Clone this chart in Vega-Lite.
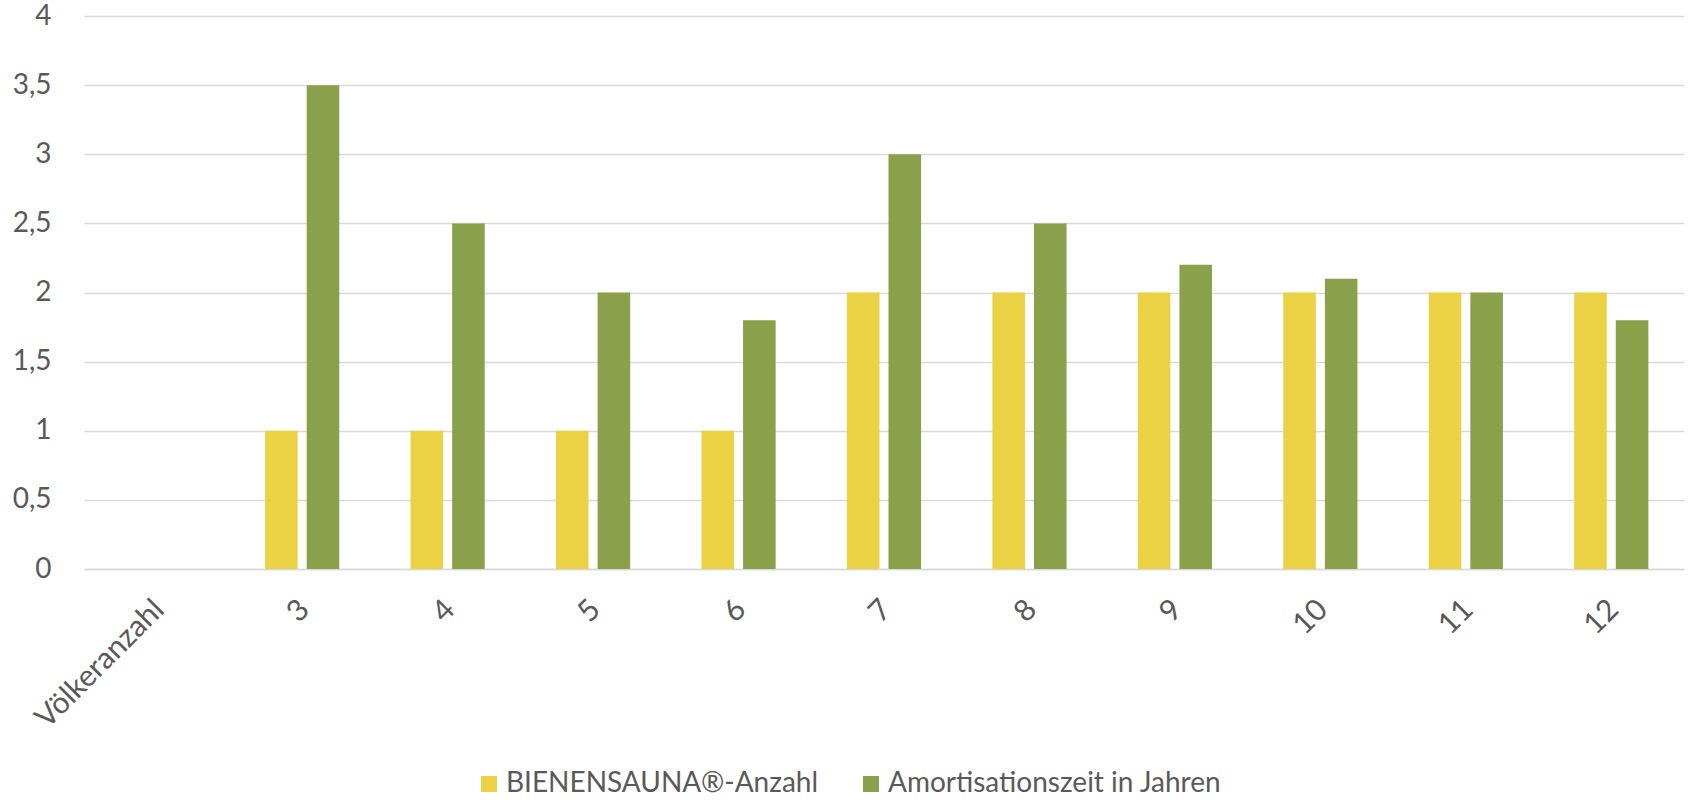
{
  "$schema": "https://vega.github.io/schema/vega-lite/v6.json",
  "autosize": {"type": "none"},
  "padding": {"left": 84, "top": 16, "right": 5, "bottom": 231},
  "width": 1600,
  "height": 553,
  "background": "white",
  "config": {
    "view": {"stroke": null},
    "font": "Lato"
  },
  "data": {
    "values": [
      {"kat": "3", "serie": "BIENENSAUNA®-Anzahl", "wert": 1},
      {"kat": "3", "serie": "Amortisationszeit in Jahren", "wert": 3.5},
      {"kat": "4", "serie": "BIENENSAUNA®-Anzahl", "wert": 1},
      {"kat": "4", "serie": "Amortisationszeit in Jahren", "wert": 2.5},
      {"kat": "5", "serie": "BIENENSAUNA®-Anzahl", "wert": 1},
      {"kat": "5", "serie": "Amortisationszeit in Jahren", "wert": 2},
      {"kat": "6", "serie": "BIENENSAUNA®-Anzahl", "wert": 1},
      {"kat": "6", "serie": "Amortisationszeit in Jahren", "wert": 1.8},
      {"kat": "7", "serie": "BIENENSAUNA®-Anzahl", "wert": 2},
      {"kat": "7", "serie": "Amortisationszeit in Jahren", "wert": 3},
      {"kat": "8", "serie": "BIENENSAUNA®-Anzahl", "wert": 2},
      {"kat": "8", "serie": "Amortisationszeit in Jahren", "wert": 2.5},
      {"kat": "9", "serie": "BIENENSAUNA®-Anzahl", "wert": 2},
      {"kat": "9", "serie": "Amortisationszeit in Jahren", "wert": 2.2},
      {"kat": "10", "serie": "BIENENSAUNA®-Anzahl", "wert": 2},
      {"kat": "10", "serie": "Amortisationszeit in Jahren", "wert": 2.1},
      {"kat": "11", "serie": "BIENENSAUNA®-Anzahl", "wert": 2},
      {"kat": "11", "serie": "Amortisationszeit in Jahren", "wert": 2},
      {"kat": "12", "serie": "BIENENSAUNA®-Anzahl", "wert": 2},
      {"kat": "12", "serie": "Amortisationszeit in Jahren", "wert": 1.8}
    ]
  },
  "mark": {"type": "bar"},
  "encoding": {
    "x": {
      "field": "kat",
      "type": "nominal",
      "scale": {
        "domain": ["Völkeranzahl", "3", "4", "5", "6", "7", "8", "9", "10", "11", "12"],
        "paddingInner": 0.49,
        "paddingOuter": 0.245
      },
      "axis": {
        "title": null,
        "labelAngle": -45,
        "labelFontSize": 30,
        "labelColor": "#595959",
        "labelPadding": 25,
        "labelOffset": -8,
        "ticks": false,
        "domain": true,
        "domainColor": "#D9D9D9",
        "domainWidth": 1.5,
        "grid": false
      }
    },
    "xOffset": {
      "field": "serie",
      "type": "nominal",
      "sort": ["BIENENSAUNA®-Anzahl", "Amortisationszeit in Jahren"],
      "scale": {"paddingInner": 0.217, "paddingOuter": 0}
    },
    "y": {
      "field": "wert",
      "type": "quantitative",
      "scale": {"domain": [0, 4], "nice": false},
      "axis": {
        "title": null,
        "values": [0, 0.5, 1, 1.5, 2, 2.5, 3, 3.5, 4],
        "format": ".1~f",
        "labelExpr": "replace(datum.label, '.', ',')",
        "labelFontSize": 28,
        "labelColor": "#595959",
        "labelPadding": 33,
        "labelDy": 3,
        "ticks": false,
        "domain": false,
        "gridColor": "#D9D9D9",
        "gridWidth": 1.5
      }
    },
    "color": {
      "field": "serie",
      "type": "nominal",
      "scale": {
        "domain": ["BIENENSAUNA®-Anzahl", "Amortisationszeit in Jahren"],
        "range": ["#EBD244", "#8AA04B"]
      },
      "legend": {
        "title": null,
        "orient": "none",
        "direction": "horizontal",
        "legendX": 391,
        "legendY": 754,
        "symbolType": "square",
        "symbolSize": 256,
        "symbolStrokeWidth": 0,
        "symbolOpacity": 1,
        "labelFontSize": 28,
        "labelColor": "#595959",
        "labelOffset": 3,
        "columnPadding": 38,
        "labelLimit": 500
      }
    }
  }
}
